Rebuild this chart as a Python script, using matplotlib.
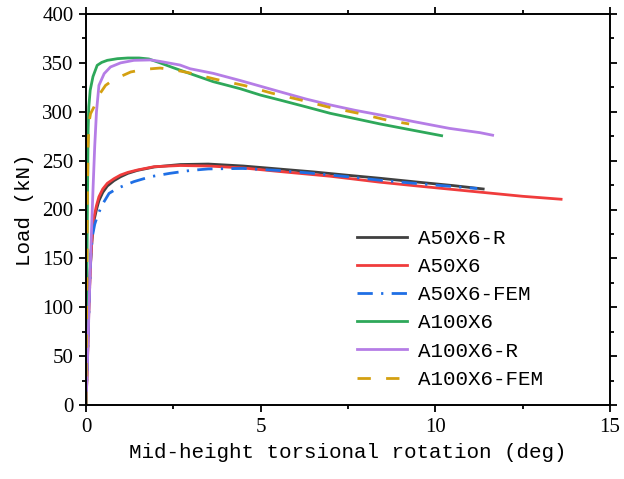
import matplotlib
matplotlib.use("Agg")
import matplotlib.pyplot as plt
from matplotlib.ticker import MultipleLocator

# ---- data ----
a50r_x = [0, 0.04, 0.08, 0.12, 0.15, 0.19, 0.23, 0.3, 0.37, 0.48, 0.61, 0.8, 0.99, 1.2, 1.47, 1.95,
          2.7, 3.5, 4.5, 5.5, 6.5, 7.5, 8.4, 9.5, 10.5, 11.37]
a50r_y = [0, 45, 100, 138, 158, 177, 189, 200, 209, 217.5, 224, 229.5, 233.5, 237, 240, 243.5,
          246, 246.5, 244.5, 241.5, 238.5, 235, 232, 228, 224.5, 221]

a50_x = [0, 0.04, 0.08, 0.12, 0.15, 0.19, 0.23, 0.3, 0.37, 0.48, 0.61, 0.8, 0.99, 1.2, 1.47, 1.95,
         2.7, 3.5, 4.5, 5.5, 6.1, 7.0, 8.4, 9.5, 10.5, 11.5, 12.5, 13.6]
a50_y = [0, 40, 95, 135, 158, 180, 192.6, 204, 213, 221, 226.8, 231.5, 235.3, 238, 240.4, 243.8,
         245, 244.5, 242.5, 239, 237, 234, 228, 224, 220.5, 217, 213.5, 210.5]

a50fem_x = [0, 0.05, 0.1, 0.14, 0.18, 0.25, 0.32, 0.45, 0.66, 0.9, 1.37, 1.85, 2.4, 3.0, 3.5,
            4.5, 5.5, 6.5, 7.5, 8.4, 9.5, 10.5, 11.2]
a50fem_y = [0, 55, 115, 155, 172, 185, 192.6, 204, 216.5, 221.7, 228.5, 233.6, 237, 240, 241.5,
            242, 240, 237, 233.5, 230, 226.5, 223.5, 221.5]

a100_x = [0, 0.02, 0.04, 0.06, 0.08, 0.12, 0.2, 0.32, 0.45, 0.61, 0.9, 1.2, 1.52, 1.8, 2.12, 2.5,
          2.98, 3.64, 4.41, 5.0, 5.55, 6.3, 6.99, 7.7, 8.42, 9.37, 10.18]
a100_y = [0, 100, 200, 280, 305, 322, 336, 347.5, 350.5, 352.6, 354.3, 355, 355, 354, 350, 345,
          339, 330.8, 323.6, 317, 312, 305, 298.4, 293, 287.5, 281, 275.5]

a100r_x = [0, 0.05, 0.1, 0.15, 0.2, 0.25, 0.3, 0.37, 0.52, 0.7, 0.99, 1.37, 1.85, 2.12, 2.69, 2.98,
           3.64, 4.41, 5.55, 6.3, 6.99, 7.7, 8.42, 9.37, 10.4, 11.28, 11.64]
a100r_y = [0, 55, 115, 170, 220, 265, 300, 327, 339, 345.8, 350, 352.6, 353, 351.5, 347.8, 344,
           339.3, 332, 320.5, 313, 307, 301.5, 296.7, 290, 283, 278.6, 276]

a100fem_x = [0, 0.02, 0.04, 0.06, 0.09, 0.13, 0.23, 0.35, 0.56, 0.8, 1.28, 1.7, 2.12, 2.5, 2.93,
             3.74, 4.55, 5.32, 6.15, 6.97, 7.8, 8.6, 9.25]
a100fem_y = [0, 110, 210, 265, 290, 298, 305, 316, 327, 333, 340.7, 343.5, 344.7, 343, 340,
             333, 326.7, 319, 312, 304.5, 298.4, 291.6, 287.5]

labels = ["A50X6-R", "A50X6", "A50X6-FEM", "A100X6", "A100X6-R", "A100X6-FEM"]
x_ticks = [0, 5, 10, 15]
y_ticks = [0, 50, 100, 150, 200, 250, 300, 350, 400]

# ---- figure ----
fig = plt.figure(figsize=(6.24, 4.79), dpi=100)
ax = fig.add_axes([86 / 624, 74 / 479, 524 / 624, 391 / 479])

lw = 2.0
ax.plot(a50r_x, a50r_y, color="#404040", lw=lw, label=labels[0])
ax.plot(a50_x, a50_y, color="#f03c3c", lw=lw, label=labels[1])
ax.plot(a50fem_x, a50fem_y, color="#1f6fe5", lw=lw, dashes=(5.5, 3, 0.8, 3), label=labels[2])
ax.plot(a100_x, a100_y, color="#2ea85a", lw=lw, label=labels[3])
ax.plot(a100r_x, a100r_y, color="#b57de6", lw=lw, label=labels[4])
ax.plot(a100fem_x, a100fem_y, color="#d4a010", lw=lw, dashes=(4.8, 5.5), label=labels[5])

ax.set_xlim(0, 15)
ax.set_ylim(0, 400)
ax.set_xticks(x_ticks)
ax.set_yticks(y_ticks)
ax.xaxis.set_minor_locator(MultipleLocator(2.5))
ax.yaxis.set_minor_locator(MultipleLocator(25))

for s in ax.spines.values():
    s.set_linewidth(1.4)

ax.tick_params(which="both", direction="out", top=True, right=True, width=1.3)
ax.tick_params(which="major", length=5, pad=4)
ax.tick_params(which="minor", length=3)
for lab in ax.get_xticklabels() + ax.get_yticklabels():
    lab.set_fontfamily("Liberation Serif")
    lab.set_fontsize(15)

ax.set_xlabel("Mid-height torsional rotation (deg)", fontfamily="Liberation Mono",
              fontsize=15, labelpad=5)
ax.set_ylabel("Load (kN)", fontfamily="Liberation Mono", fontsize=15, labelpad=6)

leg = ax.legend(loc="upper left", bbox_to_anchor=((357 - 86) / 524, (405 - 229) / 391),
                frameon=False, borderaxespad=0, borderpad=0,
                handlelength=2.4, handletextpad=0.55, labelspacing=0.44,
                prop={"family": "Liberation Mono", "size": 15})

fig.savefig("out.png", dpi=100)
